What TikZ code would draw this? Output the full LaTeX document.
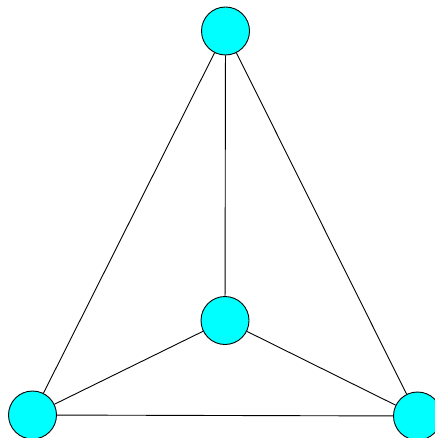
\documentclass[tikz,border=0pt]{standalone}
\definecolor{vertexfill}{RGB}{0,255,255}
\begin{document}
\begin{tikzpicture}[x=1pt,y=-1pt,
  vertex/.style={circle,draw=black,line width=0.9pt,fill=vertexfill,minimum size=48pt,inner sep=0pt},
  edge/.style={draw=black,line width=0.9pt}]
\useasboundingbox (0,0) rectangle (434,438);
\fill[white] (0,0) rectangle (434,438);
\node[vertex] (t) at (225.5,31) {};
\node[vertex] (m) at (225,320.5) {};
\node[vertex] (l) at (32.5,415) {};
\node[vertex] (r) at (417.5,416) {};
\draw[edge] (t) -- (m);
\draw[edge] (t) -- (l);
\draw[edge] (t) -- (r);
\draw[edge] (m) -- (l);
\draw[edge] (m) -- (r);
\draw[edge] (l) -- (r);
\end{tikzpicture}
\end{document}
